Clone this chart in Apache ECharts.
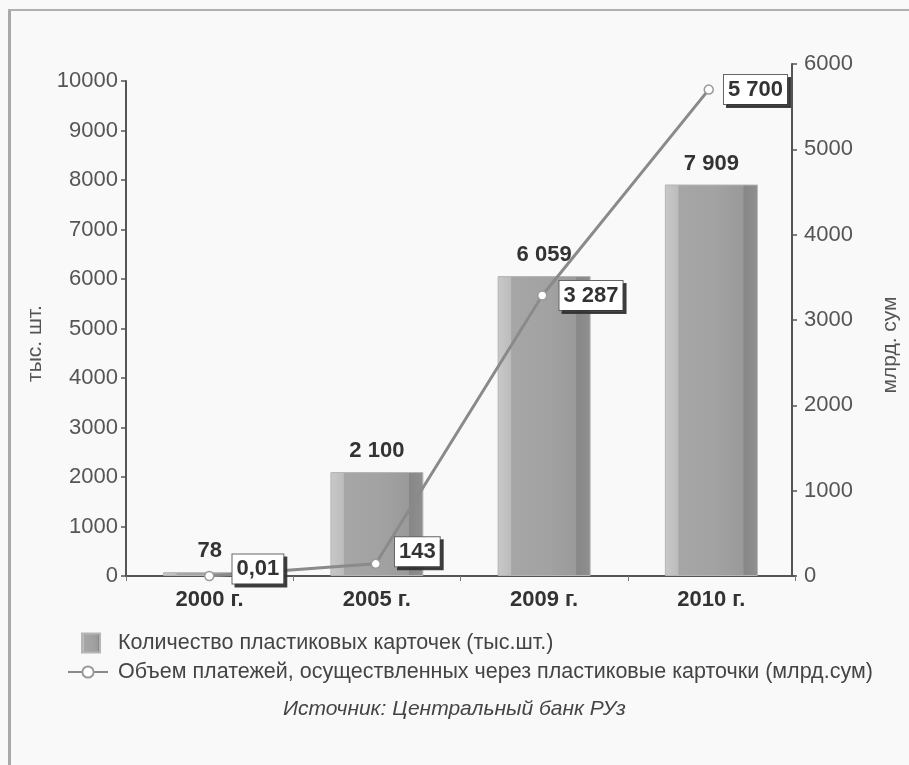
<!DOCTYPE html>
<html>
<head>
<meta charset="utf-8">
<script src="https://cdn.jsdelivr.net/npm/echarts@6/dist/echarts.min.js"></script>
<style>
html,body{margin:0;padding:0;background:#f9f9f9;}
#c{width:909px;height:765px;}
</style>
</head>
<body>
<div id="c"></div>
<script>
var categories = ['2000 г.', '2005 г.', '2009 г.', '2010 г.'];
var cardsCount = [78, 2100, 6059, 7909];
var paymentsVolume = [0.01, 143, 3287, 5700];
var leftTicks = {min: 0, max: 10000, interval: 1000};
var rightTicks = {min: 0, max: 6000, interval: 1000};
var barName = 'Количество пластиковых карточек (тыс.шт.)';
var lineName = 'Объем платежей, осуществленных через пластиковые карточки (млрд.сум)';
var leftAxisName = 'тыс. шт.';
var rightAxisName = 'млрд. сум';
var sourceText = 'Источник: Центральный банк РУз';

// label placement tweaks (style only)
var lineLabelShift = [[8, -7], [4, -12], [2, 0], [0, 0]];

function fmt(v) {
  if (v < 1) return String(v).replace('.', ',');
  return String(v).replace(/\B(?=(\d{3})+(?!\d))/g, ' ');
}

var FONT = '"Liberation Sans", Arial, sans-serif';
var chart = echarts.init(document.getElementById('c'));

var barGradient = new echarts.graphic.LinearGradient(0, 0, 1, 0, [
  {offset: 0, color: '#c9c9c9'},
  {offset: 0.14, color: '#bcbcbc'},
  {offset: 0.15, color: '#a6a6a6'},
  {offset: 0.55, color: '#a2a2a2'},
  {offset: 0.84, color: '#9a9a9a'},
  {offset: 0.85, color: '#878787'},
  {offset: 1, color: '#8f8f8f'}
]);

var option = {
  backgroundColor: '#f9f9f9',
  animation: false,
  textStyle: {fontFamily: FONT},
  grid: [
    {left: 126, right: 114, top: 81, bottom: 189},
    {left: 126, right: 114, top: 64, bottom: 189}
  ],
  legend: [
    {
      data: [{name: barName, icon: 'rect'}],
      left: 76, top: 627, orient: 'vertical',
      itemWidth: 18, itemHeight: 19,
      textStyle: {fontSize: 21.5, color: '#444', fontFamily: FONT, padding: [0, 0, 0, 13]}
    },
    {
      data: [{name: lineName}],
      left: 62, top: 656, orient: 'vertical',
      itemWidth: 40, itemHeight: 14,
      textStyle: {fontSize: 21.5, color: '#444', fontFamily: FONT, padding: [0, 0, 0, 5]}
    }
  ],
  xAxis: [
    {
      type: 'category', gridIndex: 0, data: categories,
      axisLine: {lineStyle: {color: '#555', width: 2}},
      axisTick: {show: true, length: 5, lineStyle: {color: '#777', width: 1}},
      axisLabel: {fontSize: 22, fontWeight: 'bold', color: '#333', margin: 13, fontFamily: FONT}
    },
    {
      type: 'category', gridIndex: 1, data: categories, show: false
    }
  ],
  yAxis: [
    {
      type: 'value', gridIndex: 0,
      min: leftTicks.min, max: leftTicks.max, interval: leftTicks.interval,
      name: leftAxisName, nameLocation: 'middle', nameGap: 80, nameRotate: 90,
      nameTextStyle: {fontSize: 21, color: '#555', fontFamily: FONT, padding: [0, 30, 0, 0]},
      axisLine: {show: true, lineStyle: {color: '#555', width: 2}},
      axisTick: {show: true, length: 5, lineStyle: {color: '#555', width: 1.5}},
      axisLabel: {fontSize: 22, color: '#555', margin: 8, fontFamily: FONT, formatter: function (v) { return String(v); }},
      splitLine: {show: false}
    },
    {
      type: 'value', gridIndex: 1, position: 'right',
      min: rightTicks.min, max: rightTicks.max, interval: rightTicks.interval,
      name: rightAxisName, nameLocation: 'middle', nameGap: 88, nameRotate: 90,
      nameTextStyle: {fontSize: 21, color: '#555', fontFamily: FONT, padding: [0, 50, 0, 0]},
      axisLine: {show: true, lineStyle: {color: '#555', width: 2}},
      axisTick: {show: true, length: 5, lineStyle: {color: '#555', width: 1.5}},
      axisLabel: {fontSize: 22, color: '#555', margin: 12, fontFamily: FONT, formatter: function (v) { return String(v); }},
      splitLine: {show: false}
    }
  ],
  series: [
    {
      name: barName, type: 'bar', xAxisIndex: 0, yAxisIndex: 0,
      data: cardsCount, barWidth: 93,
      itemStyle: {color: barGradient, borderColor: '#b5b5b5', borderWidth: 1},
      label: {
        show: true, position: 'top', distance: 10,
        fontSize: 22, fontWeight: 'bold', color: '#333', fontFamily: FONT,
        formatter: function (p) { return fmt(p.value); }
      }
    },
    {
      name: lineName, type: 'line', xAxisIndex: 1, yAxisIndex: 1,
      data: paymentsVolume.map(function (v, i) {
        return {value: v, label: {offset: lineLabelShift[i]}};
      }),
      symbol: 'circle', symbolSize: 9,
      lineStyle: {color: '#8a8a8a', width: 3},
      itemStyle: {color: '#ffffff', borderColor: '#9a9a9a', borderWidth: 1.5},
      label: {
        show: true, position: 'right', distance: 10,
        fontSize: 22, fontWeight: 'bold', color: '#333', fontFamily: FONT,
        backgroundColor: '#ffffff', borderColor: '#666', borderWidth: 1,
        padding: [4, 4, 3, 4],
        shadowColor: 'rgba(50,50,50,0.9)', shadowOffsetX: 3, shadowOffsetY: 3, shadowBlur: 0,
        formatter: function (p) { return fmt(p.value); }
      },
      z: 5
    }
  ],
  graphic: [
    {type: 'rect', left: 8, top: 9, shape: {width: 3, height: 760}, style: {fill: '#a8a8a8'}, silent: true},
    {type: 'rect', left: 8, top: 9, shape: {width: 901, height: 2}, style: {fill: '#b0b0b0'}, silent: true},
    {
      type: 'text', left: 283, top: 699,
      style: {text: sourceText, font: 'italic 21px "Liberation Sans", Arial, sans-serif', fill: '#444'},
      silent: true
    }
  ]
};
chart.setOption(option);
</script>
</body>
</html>
